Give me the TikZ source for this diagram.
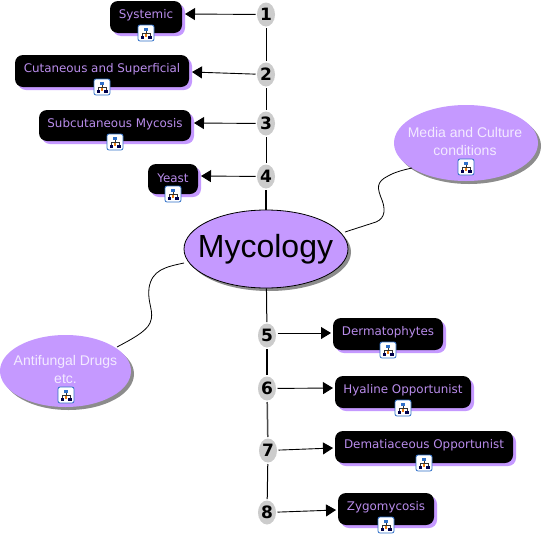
\documentclass[tikz,border=0pt]{standalone}
\usepackage{fontspec}
\setmainfont{Liberation Sans}
\newfontfamily\verd{DejaVu Sans}
\usetikzlibrary{arrows.meta,shapes.geometric}
\definecolor{lilac}{HTML}{C599FF}
\definecolor{boxtext}{HTML}{B98CEB}
\definecolor{pale}{HTML}{F3EAFF}
\definecolor{numgrey}{HTML}{CCCCCC}
\definecolor{shadowgrey}{HTML}{8C8C8C}
\definecolor{iconblue}{HTML}{2F6FC8}
\tikzset{
  boxnode/.style={fill=black,rounded corners=8pt},
  boxshadow/.style={fill=lilac,rounded corners=8pt},
  boxtxt/.style={text=boxtext,font=\verd\fontsize{11.9}{14}\selectfont,inner sep=0pt,anchor=center,yshift=-1pt},
  numnode/.style={ellipse,fill=numgrey,minimum width=18pt,minimum height=24pt,inner sep=0pt,outer sep=1.5pt,font=\verd\bfseries\fontsize{17}{17}\selectfont},
  link/.style={draw=black,line width=1pt},
  arrowlink/.style={draw=black,line width=.9pt,-{Triangle[length=10pt,width=12pt]}},
  curvelink/.style={draw=black,line width=.8pt},
  paletxt/.style={text=pale,font=\fontsize{14}{18}\selectfont,align=center,inner sep=0pt},
  iconnode/.style={draw=iconblue,fill=white,rounded corners=2pt,minimum width=16pt,minimum height=16pt,line width=.8pt,inner sep=0pt},
}
% #1 name, #2,#3 left/top, #4,#5 right/bottom, #6 text, #7 text y
\newcommand{\mybox}[7]{%
  \fill[boxshadow] (#2+3,#3+3) rectangle (#4+3,#5+3);
  \fill[boxnode] (#2,#3) rectangle (#4,#5);
  \node[boxtxt] (#1txt) at ({(#2+#4)/2},#7) {#6};
}
\newcommand{\myicon}[3]{%
  \node[iconnode] (#1) at (#2,#3) {};
  \begin{scope}[shift={(#2,#3)}]
    \draw[line width=.6pt,black!80] (0,-3) -- (0,3) (-3.8,3) -- (-3.8,0) -- (3.8,0) -- (3.8,3);
    \fill[iconblue] (-2,-5.5) rectangle (2,-2.5);
    \fill[black!70!blue] (-5.5,2.5) rectangle (-2.2,5.5);
    \fill[orange!70!brown] (-1.3,1) rectangle (1.3,3.5);
    \fill[black!70!blue] (2.2,2.5) rectangle (5.5,5.5);
  \end{scope}
}
\begin{document}
\begin{tikzpicture}[x=1pt,y=-1pt]
\useasboundingbox (0,0) rectangle (546,536);
\fill[white] (0,0) rectangle (546,536);

% ellipses
\fill[shadowgrey] (269,252) ellipse [x radius=82,y radius=39];
\node[ellipse,draw=black,line width=.8pt,fill=lilac,minimum width=164pt,minimum height=78pt,inner sep=0pt] (myco) at (266,249) {};
\node[font=\fontsize{32}{36}\selectfont,inner sep=0pt] (mycotxt) at (265.5,249.5) {Mycology};
\fill[shadowgrey] (469,146) ellipse [x radius=72,y radius=38];
\node[ellipse,fill=lilac,minimum width=144pt,minimum height=76pt,inner sep=0pt] (media) at (466,143) {};
\node[paletxt] (mediatxt) at (465,141) {Media and Culture\\conditions};
\fill[shadowgrey] (68.5,374) ellipse [x radius=65.5,y radius=36];
\node[ellipse,fill=lilac,minimum width=131pt,minimum height=72pt,inner sep=0pt] (anti) at (65.5,371) {};
\node[paletxt] (antitxt) at (65.5,369) {Antifungal Drugs\\etc.};

% boxes
\mybox{b1}{110}{1}{182}{33}{Systemic}{14}
\mybox{b2}{15}{55}{189}{87}{Cutaneous and Superficial}{68}
\mybox{b3}{39}{110}{191}{141}{Subcutaneous Mycosis}{123}
\mybox{b4}{148}{164}{198}{194}{Yeast}{177}
\mybox{b5}{333}{318}{443}{350}{Dermatophytes}{331}
\mybox{b6}{335}{376}{471}{408}{Hyaline Opportunist}{389}
\mybox{b7}{335}{431}{513}{463}{Dematiaceous Opportunist}{444}
\mybox{b8}{338}{493}{434}{525}{Zygomycosis}{506}

% icons
\myicon{i1}{146}{33}
\myicon{i2}{102}{87}
\myicon{i3}{115}{142}
\myicon{i4}{173}{194}
\myicon{i5}{388}{350}
\myicon{i6}{403}{408}
\myicon{i7}{424}{463}
\myicon{i8}{386}{525}
\myicon{i9}{466}{167}
\myicon{i10}{66}{395}

% numbered nodes
\node[numnode] (n1) at (266,14.5) {1};
\node[numnode] (n2) at (266,74.5) {2};
\node[numnode] (n3) at (266,123.5) {3};
\node[numnode] (n4) at (266,176.5) {4};
\node[numnode] (n5) at (267,335.5) {5};
\node[numnode] (n6) at (267,388.5) {6};
\node[numnode] (n7) at (268,450.5) {7};
\node[numnode] (n8) at (267,512.5) {8};

% arrow targets
\coordinate (t1) at (185,14);
\coordinate (t2) at (192,72);
\coordinate (t3) at (194,123);
\coordinate (t4) at (201,176);
\coordinate (t5) at (331,333);
\coordinate (t6) at (333,388);
\coordinate (t7) at (333,448);
\coordinate (t8) at (336,510);
\foreach \i in {1,2,3,4,6,7,8} {\draw[arrowlink] (n\i) -- (t\i);}
\draw[arrowlink] (n5.east |- t5) -- (t5);

% spine
\draw[link] (n1) -- (n2);
\draw[link] (n2) -- (n3);
\draw[link] (n3) -- (n4);
\draw[link,line width=1.5pt] (n4) -- (myco);
\draw[link] (myco) -- (n5);
\draw[link,line width=1.5pt] (n5) -- (n6);
\draw[link,line width=1.5pt,draw=black!70] (n6) -- (n7);
\draw[link] (n7) -- (n8);

% curved connectors
\coordinate (c1) at (345,232);
\coordinate (c2) at (412,168);
\coordinate (c3) at (184,263);
\coordinate (c4) at (117,347);
\draw[curvelink] (c1) -- (376,222) .. controls (386,218) and (385,208) .. (382,200)
  .. controls (377,188) and (376,182) .. (388,176) .. controls (395,172) and (403,170) .. (c2);
\draw[curvelink] (c3) .. controls (165,267) and (152,270) .. (149,288)
  .. controls (147,303) and (155,312) .. (150,323) .. controls (146,332) and (130,340) .. (c4);
\end{tikzpicture}
\end{document}
